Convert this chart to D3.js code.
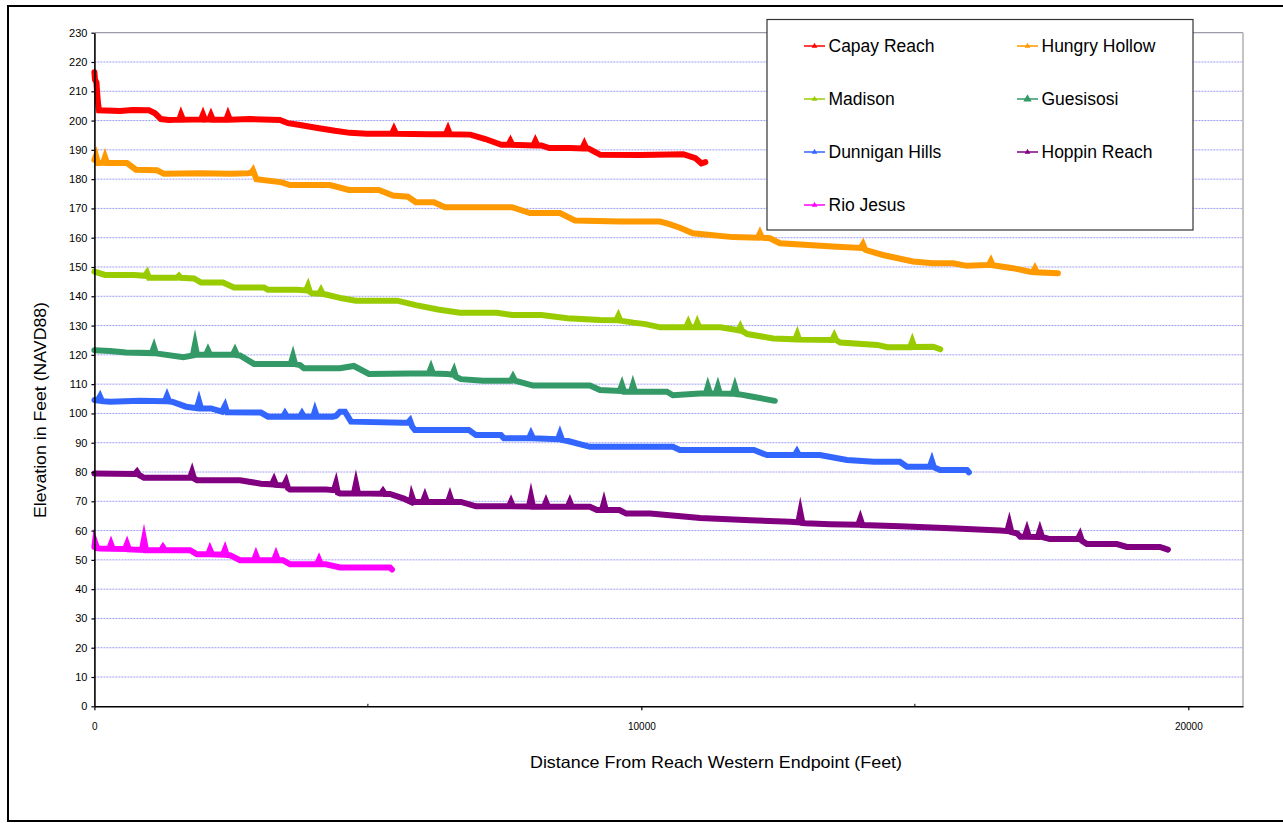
<!DOCTYPE html>
<html>
<head>
<meta charset="utf-8">
<script src="https://cdn.jsdelivr.net/npm/d3@7/dist/d3.min.js"></script>
<style>
  html, body { margin: 0; padding: 0; background: #ffffff; }
  svg { display: block; font-family: "Liberation Sans", Arial, sans-serif; }
</style>
</head>
<body>
<svg id="chart" width="1283" height="823"></svg>
<script>
// ---------- DATA (distance in feet, elevation in feet NAVD88) ----------
const seriesNames = ["Capay Reach", "Hungry Hollow", "Madison", "Guesisosi", "Dunnigan Hills", "Hoppin Reach", "Rio Jesus"];
const seriesColors = ["#FF0000", "#FF9900", "#99CC00", "#339966", "#3366FF", "#800080", "#FF00FF"];

const capayReach = [
  [0,216.5],[11,214],[38,213],[48,210],[66,206],[84,203.5],[468,203.3],[700,203.6],[998,203.5],[1108,202.5],[1217,200.5],
  [1364,200.2],[1550,200.3],[1583,202],[1620,200.3],[1950,200.4],[1985,202],[2020,200.3],[2100,200.4],[2131,201.8],
  [2165,200.3],[2410,200.3],[2442,201.9],[2475,200.3],[2845,200.5],[3393,200.2],[3540,199.1],[3759,198.5],[4106,197.4],
  [4398,196.5],[4672,195.8],[4983,195.5],[5440,195.5],[5477,197],[5515,195.5],[6135,195.3],[6425,195.3],[6464,197],
  [6500,195.3],[6874,195.2],[7148,193.7],[7441,191.7],[7570,191.7],[7606,193],[7640,191.7],[8025,191.5],[8062,193],
  [8100,191.5],[8172,191.5],[8318,190.6],[8702,190.6],[8920,190.5],[8958,192],[8995,190.5],[9031,190.5],[9250,188.3],
  [9981,188.2],[10768,188.5],[10987,187.2],[11097,185.4],[11170,185.8]
];
const hungryHollow = [
  [0,186.6],[29,188],[66,185.5],[160,185.6],[194,187.5],[230,185.5],[596,185.5],[760,183.2],[1144,183],[1272,181.8],
  [1930,182],[2479,181.8],[2808,182],[2870,182.2],[2899,183],[2930,181.5],[2963,180],[3429,178.9],[3576,178],[4307,178],
  [4654,176.3],[5202,176.3],[5458,174.4],[5732,174],[5878,172.1],[6208,172.1],[6409,170.4],[7634,170.4],[7963,168.4],
  [8511,168.4],[8785,165.9],[9608,165.5],[10339,165.5],[10485,164.8],[10705,163.4],[10943,161.5],[11674,160.2],
  [12130,160],[12168,161.5],[12205,160],[12350,159.8],[12533,158.1],[13502,157],[14010,156.5],[14051,157.8],[14090,156],
  [14106,155.8],[14416,154.1],[14965,151.9],[15331,151.3],[15696,151.3],[15952,150.4],[16355,150.7],[16391,152],
  [16425,150.6],[16793,149.6],[17104,148.4],[17160,148.3],[17195,149.5],[17230,148.2],[17616,147.9]
];
const madison = [
  [0,148.4],[194,147.3],[724,147.3],[925,147],[962,148],[998,146.3],[1510,146.3],[1546,147],[1580,146.3],[1821,146.1],
  [1949,144.7],[2351,144.7],[2552,143],[3100,143],[3173,142.2],[3704,142.2],[3870,142],[3905,143.5],[3940,141.5],
  [3978,141],[4110,140.9],[4142,142],[4175,140.8],[4234,140.6],[4526,139.3],[4782,138.5],[5532,138.5],[5878,137],
  [6281,135.5],[6683,134.4],[7360,134.4],[7634,133.6],[8172,133.6],[8647,132.5],[9250,131.9],[9540,131.8],[9579,133.3],
  [9615,131.7],[9853,131],[10073,130.5],[10347,129.4],[10820,129.4],[10858,131],[10895,129.4],[10990,129.4],[11023,131],
  [11060,129.4],[11443,129.4],[11754,128.5],[11780,128.4],[11809,129.5],[11840,128.2],[11937,127.1],[12412,125.6],
  [12815,125.3],[12851,127],[12885,125.2],[13490,125.1],[13527,126.5],[13565,125],[13637,124.2],[14313,123.4],
  [14496,122.6],[14915,122.6],[14954,124.6],[14990,122.7],[15337,122.8],[15465,121.9]
];
const guesisosi = [
  [0,121.6],[285,121.3],[578,120.8],[1050,120.6],[1089,122.6],[1125,120.5],[1627,119.2],[1800,119.8],[1839,123.5],
  [1875,120],[2040,120],[2077,121.5],[2115,120],[2530,120],[2570,121.5],[2610,119.9],[2662,119.8],[2918,116.9],
  [3590,116.9],[3631,119.5],[3670,116.8],[3759,116.5],[3832,115.4],[4490,115.4],[4745,116.2],[5019,113.5],[6115,113.7],
  [6153,115.5],[6190,113.6],[6446,113.5],[6540,113.2],[6574,114.6],[6610,112.5],[6702,111.7],[7104,111.2],[7615,111.2],
  [7653,112.5],[7690,111.2],[8019,109.5],[9060,109.5],[9243,108],[9605,107.7],[9645,109.7],[9685,107.4],[9810,107.4],
  [9846,109.7],[9885,107.4],[10467,107.4],[10577,106.2],[11070,106.8],[11180,106.8],[11216,109.1],[11255,106.8],
  [11360,106.8],[11399,109.1],[11435,106.8],[11670,106.7],[11710,109.1],[11750,106.6],[11801,106.5],[12039,105.7],
  [12440,104.3]
];
const dunniganHills = [
  [0,104.6],[60,104.4],[102,105.8],[140,104.2],[285,104],[834,104.3],[1290,104.2],[1327,105.9],[1365,104.1],[1419,104],
  [1675,102.3],[1875,101.8],[1912,104.2],[1950,101.7],[2131,101.7],[2332,100.6],[2387,102.6],[2425,100.4],[3045,100.3],
  [3173,98.9],[3450,98.9],[3484,100],[3520,98.9],[3760,98.9],[3795,100],[3830,98.9],[4000,98.9],[4033,100.9],[4070,98.9],
  [4362,98.9],[4420,99.2],[4490,100.6],[4581,100.6],[4691,97.2],[5659,96.8],[5730,96.8],[5769,97.6],[5810,95.5],
  [5860,94.3],[6848,94.3],[6976,92.6],[7433,92.6],[7488,91.5],[7945,91.5],[7982,93],[8020,91.5],[8475,91.2],[8511,93],
  [8550,91],[8675,90.5],[9060,88.6],[10577,88.6],[10705,87.5],[12058,87.5],[12295,85.8],[12805,85.8],[12844,87],
  [12880,85.8],[13264,85.8],[13758,84.1],[14251,83.5],[14727,83.5],[14855,81.8],[15275,81.8],[15312,83.8],[15350,81.6],
  [15459,80.7],[15952,80.7],[15988,79.9]
];
const hoppinReach = [
  [0,79.5],[740,79.3],[778,80.1],[815,79],[907,78],[1748,78],[1785,80],[1820,77.8],[1876,77.2],[2662,77.2],[3045,76],
  [3245,75.8],[3283,77.3],[3320,75.6],[3465,75.4],[3503,76.8],[3540,74.5],[3576,74],[4234,74],[4380,73.8],[4416,76],
  [4450,73],[4490,72.7],[4745,72.7],[4782,76],[4820,72.7],[5240,72.6],[5275,73.5],[5310,72.5],[5403,72.5],[5659,70.9],
  [5787,69.8],[5805,71.7],[5840,69.8],[6005,69.8],[6043,71.7],[6080,69.8],[6465,69.8],[6500,71.7],[6535,69.8],[6702,69.8],
  [6976,68.3],[7580,68.3],[7616,69.8],[7650,68.3],[7945,68.2],[7982,71.5],[8020,68.1],[8220,68.1],[8257,69.8],[8295,68.1],
  [8655,68.1],[8693,69.8],[8730,68.1],[9060,68.1],[9188,67],[9280,67],[9316,69.5],[9350,67],[9597,67],[9725,65.8],
  [10164,65.8],[11078,64.3],[11992,63.5],[12723,63],[12870,62.8],[12906,66.3],[12945,62.6],[12998,62.5],[13455,62.2],
  [13965,62],[14003,64],[14040,61.9],[14734,61.5],[15648,60.8],[16562,60],[16690,59.8],[16727,62.4],[16765,59.5],
  [16873,59],[16928,57.9],[17010,57.9],[17049,60.1],[17085,57.9],[17250,57.8],[17287,60],[17325,57.8],[17469,57.1],
  [17980,57.1],[18018,58.5],[18055,56.5],[18146,55.4],[18694,55.4],[18877,54.4],[19480,54.4],[19627,53.5]
];
const rioJesus = [
  [0,54.4],[11,56.1],[50,54],[102,53.9],[270,53.8],[303,55.4],[335,53.8],[560,53.7],[596,55.4],[630,53.6],[706,53.5],
  [870,53.4],[907,57],[945,53.3],[1220,53.3],[1254,54.3],[1290,53.3],[1748,53.3],[1876,51.9],[2080,51.9],[2113,53.5],
  [2150,51.9],[2350,51.8],[2387,53.5],[2420,51.7],[2478,51.6],[2662,49.9],[2920,49.9],[2954,51.6],[2990,49.9],[3285,49.9],
  [3320,51.6],[3355,49.9],[3448,49.9],[3576,48.5],[4070,48.5],[4106,50],[4140,48.5],[4234,48.5],[4490,47.4],[5404,47.4],
  [5440,46.7]
];
const seriesData = [capayReach, hungryHollow, madison, guesisosi, dunniganHills, hoppinReach, rioJesus];

const yTickValues = d3.range(0, 231, 10);
const xTickValues = [0, 10000, 20000];
const xMinorTickValues = [5000, 15000];
const xTitle = "Distance From Reach Western Endpoint (Feet)";
const yTitle = "Elevation in Feet (NAVD88)";

// ---------- LAYOUT ----------
const svg = d3.select("#chart");
const plotLeft = 94.4, plotRight = 1243, plotTop = 32.7, plotBottom = 706.3;

const x = d3.scaleLinear().domain([0, 21000]).range([plotLeft, plotRight]);
const y = d3.scaleLinear().domain([0, 230]).range([plotBottom, plotTop]);

// outer border
svg.append("rect").attr("x", 8).attr("y", 6).attr("width", 1300).attr("height", 815)
  .attr("fill", "none").attr("stroke", "#000").attr("stroke-width", 2);

// gridlines
svg.append("g").selectAll("line").data(yTickValues.filter(v => v > 0 && v < 230)).join("line")
  .attr("x1", plotLeft).attr("x2", plotRight)
  .attr("y1", d => y(d)).attr("y2", d => y(d))
  .attr("stroke", "#9c9cf4").attr("stroke-width", 1).attr("stroke-dasharray", "2,1");

// plot area border (top, right)
svg.append("line").attr("x1", plotLeft).attr("x2", plotRight).attr("y1", y(230)).attr("y2", y(230))
  .attr("stroke", "#9a9aa8").attr("stroke-width", 1.2);
svg.append("line").attr("x1", plotRight).attr("x2", plotRight).attr("y1", y(230)).attr("y2", y(0))
  .attr("stroke", "#c4c4c4").attr("stroke-width", 2);

// series
const line = d3.line().x(d => x(d[0])).y(d => y(d[1]));
const seriesG = svg.append("g");
seriesData.forEach((data, i) => {
  seriesG.append("path").datum(data)
    .attr("d", line)
    .attr("fill", "none")
    .attr("stroke", seriesColors[i])
    .attr("stroke-width", 6)
    .attr("stroke-linejoin", "miter")
    .attr("stroke-miterlimit", 6)
    .attr("stroke-linecap", "round");
});

// y axis
const yAxis = svg.append("g").attr("transform", `translate(${plotLeft},0)`)
  .call(d3.axisLeft(y).tickValues(yTickValues).tickSize(3).tickPadding(4).tickSizeOuter(0));
yAxis.select(".domain").attr("stroke", "#000").attr("stroke-width", 1.6);
yAxis.selectAll(".tick line").attr("stroke", "#000").attr("stroke-width", 1.2);
yAxis.selectAll("text").attr("font-size", 11).attr("fill", "#000")
  .attr("font-family", "Liberation Sans, Arial, sans-serif");

// x axis
const xAxis = svg.append("g").attr("transform", `translate(0,${plotBottom})`)
  .call(d3.axisBottom(x).tickValues(xTickValues).tickFormat(d3.format("d"))
    .tickSize(4).tickPadding(13).tickSizeOuter(0));
xAxis.select(".domain").attr("stroke", "#000").attr("stroke-width", 1.6);
xAxis.selectAll(".tick line").attr("stroke", "#000").attr("stroke-width", 1.2);
xAxis.selectAll("text").attr("font-size", 10).attr("fill", "#000")
  .attr("font-family", "Liberation Sans, Arial, sans-serif");
xAxis.selectAll(".minor").data(xMinorTickValues).join("line").attr("class", "minor")
  .attr("x1", d => x(d)).attr("x2", d => x(d)).attr("y1", 0).attr("y2", -2.5)
  .attr("stroke", "#000").attr("stroke-width", 1);

// axis titles
svg.append("text").attr("x", 716).attr("y", 768).attr("text-anchor", "middle")
  .attr("font-size", 16.5).attr("fill", "#000")
  .attr("textLength", 372).attr("lengthAdjust", "spacingAndGlyphs")
  .text(xTitle);
svg.append("text").attr("transform", "translate(46,410) rotate(-90)").attr("text-anchor", "middle")
  .attr("font-size", 16).attr("fill", "#000")
  .attr("textLength", 216).attr("lengthAdjust", "spacingAndGlyphs")
  .text(yTitle);

// legend
const legend = svg.append("g");
legend.append("rect").attr("x", 767).attr("y", 19.5).attr("width", 426).attr("height", 210.5)
  .attr("fill", "#fff").attr("stroke", "#333").attr("stroke-width", 1.2);
const colX = [804, 1017], rowY = [46, 99, 152, 205];
seriesNames.forEach((name, i) => {
  const cx = colX[i % 2], cy = rowY[Math.floor(i / 2)];
  const g = legend.append("g");
  g.append("line").attr("x1", cx).attr("x2", cx + 21).attr("y1", cy).attr("y2", cy)
    .attr("stroke", seriesColors[i]).attr("stroke-width", 1.5);
  g.append("path").attr("d", d3.symbol(d3.symbolTriangle, name === "Guesisosi" ? 30 : 14)())
    .attr("transform", `translate(${cx + 10.5},${cy})`).attr("fill", seriesColors[i]);
  g.append("text").attr("x", cx + 24.5).attr("y", cy).attr("dy", "0.36em")
    .attr("font-size", 17.5).attr("fill", "#000").text(name);
});
</script>
</body>
</html>
